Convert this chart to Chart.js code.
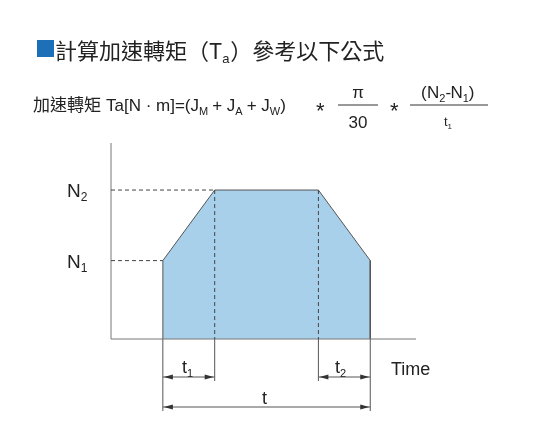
<!DOCTYPE html>
<html><head><meta charset="utf-8">
<script src="https://cdn.jsdelivr.net/npm/chart.js@4.4.1/dist/chart.umd.min.js"></script>
<style>html,body{margin:0;background:#fff;}#c{display:block;}</style>
</head><body>
<canvas id="c" width="543" height="432"></canvas>
<script>
// speed profile (time, speed) in percent of the axes
const timePoints = [17, 17, 34, 68, 85, 85];
const speedValues = [0, 40, 76, 76, 40, 0];
const speedLabels = ['N1', 'N2'];
const speedLevels = [40, 76];

const FONT = '"Liberation Sans", Arial, sans-serif';
const CJK = '"Noto Sans CJK TC", "Noto Sans CJK SC", sans-serif';

function sub(ctx, main, s, x, y, size) {
    ctx.font = size + 'px ' + FONT;
    ctx.fillText(main, x, y);
    const w = ctx.measureText(main).width;
    ctx.font = Math.round(size * 0.62) + 'px ' + FONT;
    ctx.fillText(s, x + w, y + size * 0.22);
    return w + ctx.measureText(s).width;
}

function arrowHead(ctx, x, y, dir) {
    ctx.beginPath();
    ctx.moveTo(x, y);
    ctx.lineTo(x - dir * 9, y - 2.5);
    ctx.lineTo(x - dir * 9, y + 2.5);
    ctx.closePath();
    ctx.fill();
}

const diagram = {
    id: 'diagram',
    afterDraw(chart) {
        const ctx = chart.ctx;
        const xs = chart.scales.x, ys = chart.scales.y;
        const X = v => xs.getPixelForValue(v), Y = v => ys.getPixelForValue(v);
        const a = chart.chartArea;
        ctx.save();
        ctx.fillStyle = '#222'; ctx.strokeStyle = '#777'; ctx.lineWidth = 1;
        // axes
        ctx.beginPath();
        ctx.moveTo(a.left, a.top); ctx.lineTo(a.left, a.bottom); ctx.lineTo(a.right, a.bottom);
        ctx.stroke();
        // dashed guides
        ctx.strokeStyle = '#444'; ctx.setLineDash([4, 3]);
        ctx.beginPath();
        ctx.moveTo(a.left, Y(speedLevels[0])); ctx.lineTo(X(timePoints[1]), Y(speedLevels[0]));
        ctx.moveTo(a.left, Y(speedLevels[1])); ctx.lineTo(X(timePoints[2]), Y(speedLevels[1]));
        ctx.moveTo(X(timePoints[2]), Y(speedLevels[1])); ctx.lineTo(X(timePoints[2]), a.bottom);
        ctx.moveTo(X(timePoints[3]), Y(speedLevels[1])); ctx.lineTo(X(timePoints[3]), a.bottom);
        ctx.stroke();
        ctx.setLineDash([]);
        // dimension lines
        const x1 = X(timePoints[0]), x2 = X(timePoints[2]), x3 = X(timePoints[3]), x4 = X(timePoints[4]);
        ctx.strokeStyle = '#555';
        ctx.beginPath();
        ctx.moveTo(x1, a.bottom); ctx.lineTo(x1, 411);
        ctx.moveTo(x4, a.bottom); ctx.lineTo(x4, 411);
        ctx.moveTo(x2, a.bottom); ctx.lineTo(x2, 381);
        ctx.moveTo(x3, a.bottom); ctx.lineTo(x3, 381);
        ctx.moveTo(x1, 377); ctx.lineTo(x2, 377);
        ctx.moveTo(x3, 377); ctx.lineTo(x4, 377);
        ctx.moveTo(x1, 407); ctx.lineTo(x4, 407);
        ctx.stroke();
        ctx.fillStyle = '#333';
        arrowHead(ctx, x1 + 1, 377, -1); arrowHead(ctx, x2 - 1, 377, 1);
        arrowHead(ctx, x3 + 1, 377, -1); arrowHead(ctx, x4 - 1, 377, 1);
        arrowHead(ctx, x1 + 1, 407, -1); arrowHead(ctx, x4 - 1, 407, 1);
        // labels
        ctx.fillStyle = '#222'; ctx.textBaseline = 'alphabetic';
        sub(ctx, 'N', '1', 67, Y(speedLevels[0]) + 7, 19);
        sub(ctx, 'N', '2', 67, Y(speedLevels[1]) + 7, 19);
        sub(ctx, 't', '1', 182, 373, 18);
        sub(ctx, 't', '2', 335, 373, 18);
        ctx.font = '18px ' + FONT; ctx.fillText('Time', 391, 375);
        ctx.fillText('t', 262, 404);
        // title
        ctx.fillStyle = '#1d6fb8'; ctx.fillRect(37, 40, 17, 17);
        ctx.fillStyle = '#222';
        ctx.font = '22px ' + CJK; ctx.fillText('計算加速轉矩（T', 55, 59);
        let w = ctx.measureText('計算加速轉矩（T').width;
        ctx.font = '13px ' + FONT; ctx.fillText('a', 55 + w, 63);
        ctx.font = '22px ' + CJK; ctx.fillText('）參考以下公式', 55 + w + 8, 59);
        // formula
        ctx.font = '17px ' + CJK; ctx.fillText('加速轉矩', 33, 111);
        let x = 33 + ctx.measureText('加速轉矩').width + 5;
        ctx.font = '17px ' + FONT;
        ctx.fillText('Ta[N · m]=(', x, 111); x += ctx.measureText('Ta[N · m]=(').width;
        x += sub(ctx, 'J', 'M', x, 111, 17) + 4;
        ctx.font = '17px ' + FONT; ctx.fillText('+ ', x, 111); x += ctx.measureText('+ ').width;
        x += sub(ctx, 'J', 'A', x, 111, 17) + 4;
        ctx.font = '17px ' + FONT; ctx.fillText('+ ', x, 111); x += ctx.measureText('+ ').width;
        x += sub(ctx, 'J', 'W', x, 111, 17);
        ctx.font = '17px ' + FONT; ctx.fillText(')', x, 111);
        ctx.font = '22px ' + FONT;
        ctx.fillText('*', 316, 118); ctx.fillText('*', 390, 118);
        ctx.font = '17px ' + FONT;
        ctx.textAlign = 'center';
        ctx.fillText('π', 358, 98); ctx.fillText('30', 358, 128);
        ctx.beginPath(); ctx.strokeStyle = '#333';
        ctx.moveTo(338, 105); ctx.lineTo(378, 105);
        ctx.moveTo(410, 105); ctx.lineTo(488, 105); ctx.stroke();
        ctx.textAlign = 'left';
        ctx.fillText('(', 421, 98); let fx = 427;
        fx += sub(ctx, 'N', '2', fx, 98, 17);
        ctx.font = '17px ' + FONT; ctx.fillText('-', fx, 98); fx += 5;
        fx += sub(ctx, 'N', '1', fx, 98, 17);
        ctx.font = '17px ' + FONT; ctx.fillText(')', fx, 98);
        sub(ctx, 't', '1', 444, 126, 13);
        ctx.restore();
    }
};

new Chart(document.getElementById('c'), {
    type: 'line',
    data: {
        datasets: [{
            data: timePoints.map((t, i) => ({ x: t, y: speedValues[i] })),
            borderColor: '#555', borderWidth: 1,
            backgroundColor: '#a8d0ea', fill: 'origin',
            pointRadius: 0, tension: 0
        }]
    },
    options: {
        responsive: false, animation: false,
        layout: { padding: { left: 111, right: 127, top: 143, bottom: 93 } },
        plugins: { legend: { display: false }, tooltip: { enabled: false } },
        scales: {
            x: { type: 'linear', min: 0, max: 100, display: false },
            y: { min: 0, max: 100, display: false }
        }
    },
    plugins: [diagram]
});
</script>
</body></html>
